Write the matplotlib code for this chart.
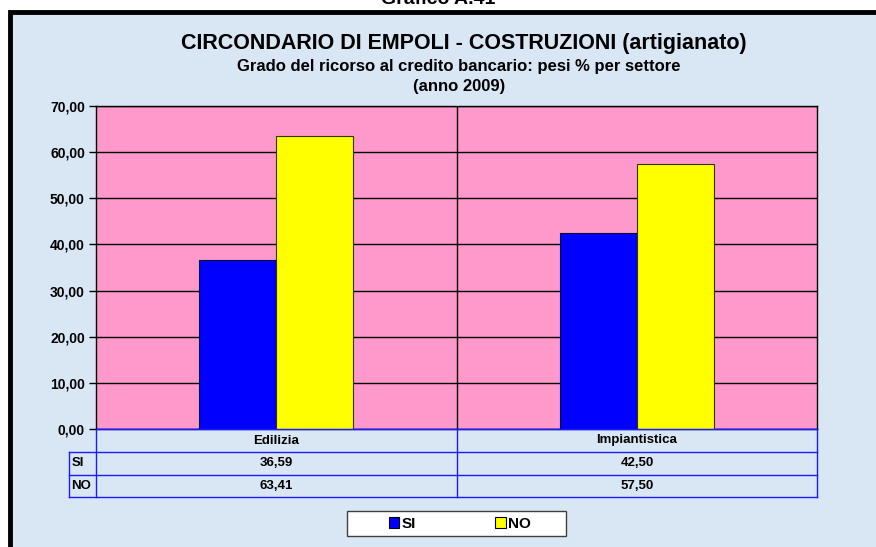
import matplotlib
matplotlib.use("Agg")
import matplotlib.pyplot as plt
from matplotlib.patches import Rectangle
from matplotlib.lines import Line2D

plt.rcParams["font.family"] = ["Liberation Sans", "DejaVu Sans"]
plt.rcParams["font.weight"] = "bold"

# data
categories = ["Edilizia", "Impiantistica"]
series_names = ["SI", "NO"]
si_values = [36.59, 42.50]
no_values = [63.41, 57.50]
y_ticks = [0, 10, 20, 30, 40, 50, 60, 70]

W, H = 876, 547
fig = plt.figure(figsize=(W / 100, H / 100), dpi=100)
fig.patch.set_facecolor("white")


def fx(px):
    return px / W


def fy(py):
    return 1 - py / H


# chart area background with black border (top and left)
bg = Rectangle((fx(10), fy(560)), fx(900), fy(12) - fy(560), transform=fig.transFigure,
               facecolor="#d9e7f5", edgecolor="black", linewidth=3.5, zorder=-5)
fig.patches.append(bg)

# clipped caption at the very top
fig.text(0.5, fy(8), "Grafico A.41", ha="center", va="bottom", fontsize=14,
         fontweight="bold", color="black")

# titles
fig.text(fx(464), fy(43), "CIRCONDARIO DI EMPOLI - COSTRUZIONI (artigianato)",
         ha="center", va="center", fontsize=15.5, fontweight="bold")
fig.text(fx(459), fy(66), "Grado del ricorso al credito bancario: pesi % per settore",
         ha="center", va="center", fontsize=12, fontweight="bold")
fig.text(fx(459), fy(87), "(anno 2009)", ha="center", va="center", fontsize=12,
         fontweight="bold")

# plot area
ax = fig.add_axes([fx(96), fy(429), fx(817) - fx(96), fy(106) - fy(429)])
ax.set_facecolor("#ff99cc")

x = list(range(len(categories)))
bw = 77 / 361
ax.bar([i - bw / 2 for i in x], si_values, width=bw, color="#0000ff",
       edgecolor="#000033", linewidth=0.8, zorder=3)
ax.bar([i + bw / 2 for i in x], no_values, width=bw, color="#ffff00",
       edgecolor="#333300", linewidth=0.8, zorder=3)

ax.set_xlim(-0.5, len(categories) - 0.5)
ax.set_ylim(0, 70)
ax.set_yticks(y_ticks)
ax.set_yticklabels([f"{v:.2f}".replace(".", ",") for v in y_ticks],
                   fontsize=10, fontweight="bold")
ax.set_xticks([])
ax.yaxis.grid(True, color="black", linewidth=1.0, zorder=1)
ax.set_axisbelow(True)
ax.tick_params(axis="y", length=5, width=1, direction="out", pad=3)
for i in range(1, len(categories)):
    ax.axvline(i - 0.5, color="black", linewidth=1.0, zorder=1)
for s in ax.spines.values():
    s.set_color("black")
    s.set_linewidth(1.0)
ax.spines["bottom"].set_color("#000080")

# data table below the axes
ys = [429, 452, 475, 497]
lc = "#1a1aff"
fig.lines.append(Line2D([fx(96), fx(817)], [fy(ys[0]), fy(ys[0])], color=lc, lw=1.0,
                        transform=fig.transFigure))
for yy in ys[1:]:
    fig.lines.append(Line2D([fx(69), fx(817)], [fy(yy), fy(yy)], color=lc, lw=1.0,
                            transform=fig.transFigure))
for xx in [96, 457, 817]:
    fig.lines.append(Line2D([fx(xx), fx(xx)], [fy(ys[0]), fy(ys[3])], color=lc, lw=1.0,
                            transform=fig.transFigure))
fig.lines.append(Line2D([fx(69), fx(69)], [fy(ys[1]), fy(ys[3])], color=lc, lw=1.0,
                        transform=fig.transFigure))

col_centers = [276.5, 637]
for c, name in zip(col_centers, categories):
    fig.text(fx(c), fy((ys[0] + ys[1]) / 2), name, ha="center", va="center",
             fontsize=9.5, fontweight="bold")
for r, (label, vals) in enumerate(zip(series_names, [si_values, no_values])):
    yc = fy((ys[r + 1] + ys[r + 2]) / 2)
    fig.text(fx(71.5), yc, label, ha="left", va="center", fontsize=9.5, fontweight="bold")
    for c, v in zip(col_centers, vals):
        fig.text(fx(c), yc, f"{v:.2f}".replace(".", ","), ha="center", va="center",
                 fontsize=9.5, fontweight="bold")

# legend
lbox = Rectangle((fx(347), fy(536)), fx(566) - fx(347), fy(511) - fy(536),
                 transform=fig.transFigure, facecolor="white", edgecolor="#404040",
                 linewidth=1.0, zorder=2)
fig.patches.append(lbox)
handles = [Rectangle((0, 0), 1, 1, facecolor="#0000ff", edgecolor="black", lw=0.8),
           Rectangle((0, 0), 1, 1, facecolor="#ffff00", edgecolor="black", lw=0.8)]
leg = fig.legend(handles, series_names, loc="center", ncol=2,
                 bbox_to_anchor=(fx(460), fy(523.5)), frameon=False,
                 handlelength=0.7, handleheight=0.7, handletextpad=0.15,
                 columnspacing=5.2, prop={"weight": "bold", "size": 11})

fig.savefig("out.png", dpi=100)
